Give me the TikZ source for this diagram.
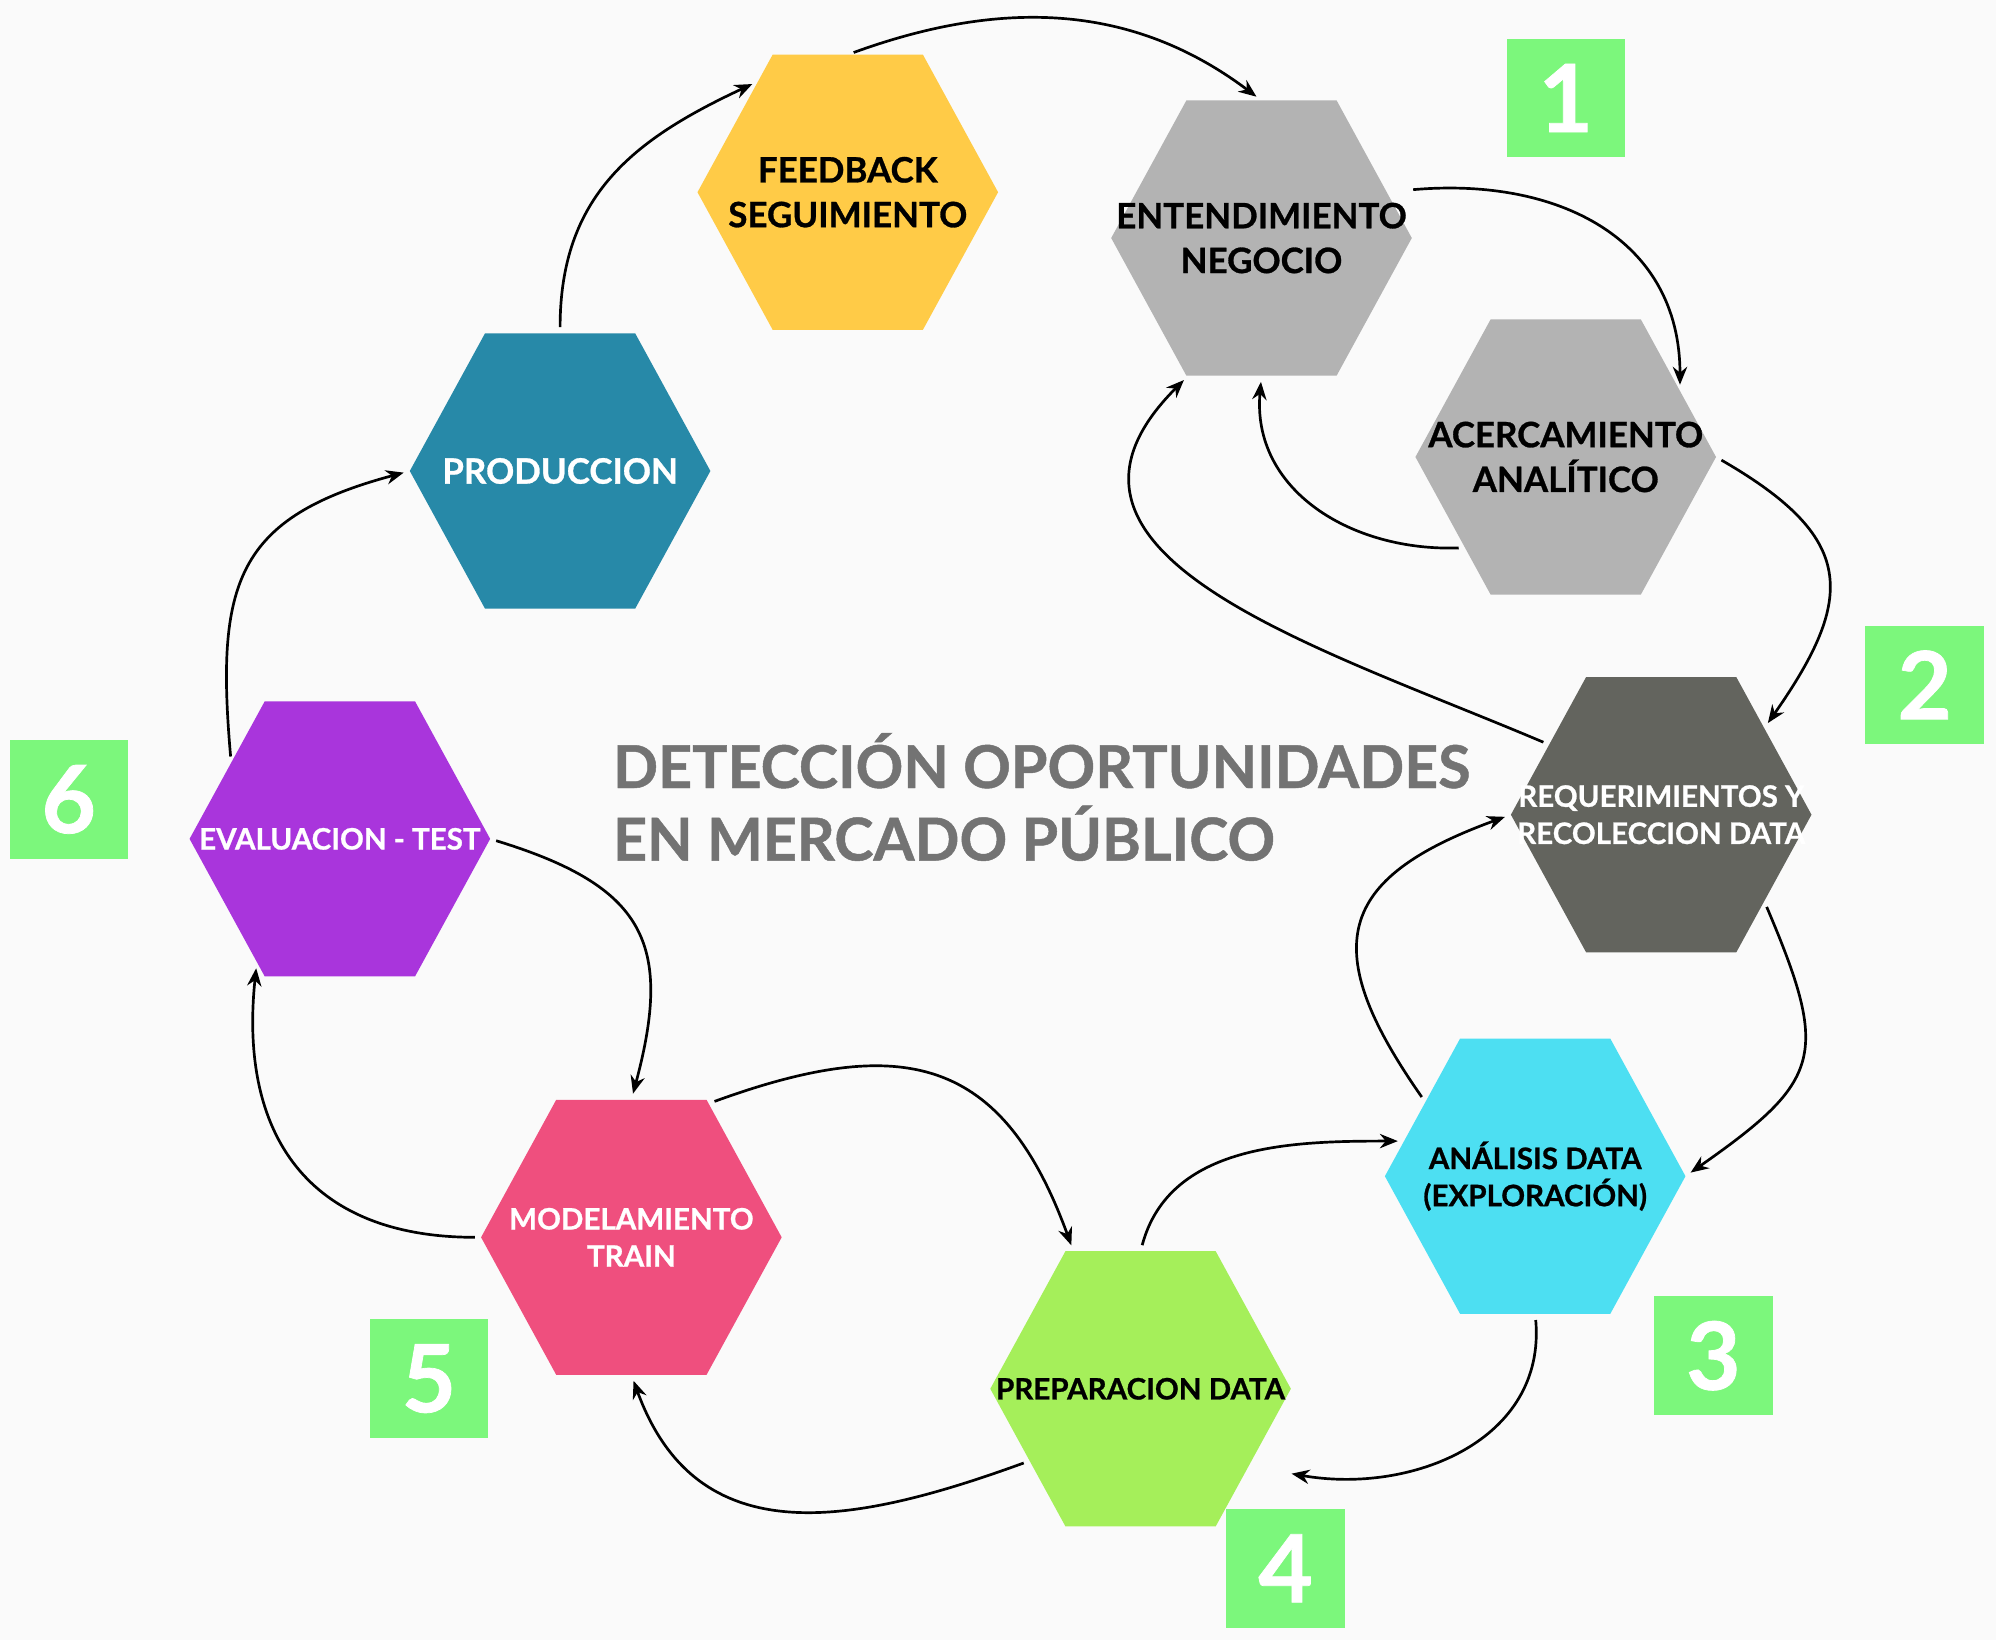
\documentclass[tikz,border=0pt]{standalone}
\usepackage{fontspec}
\setmainfont{Lato}[BoldFeatures={FakeBold=0.8}]
\usepackage{xcolor}
\usetikzlibrary{shapes.symbols}
\usetikzlibrary{positioning, arrows.meta}

\definecolor{bgcol}{HTML}{FAFAFA}
\definecolor{feedcol}{HTML}{FFCB47}
\definecolor{entcol}{HTML}{B3B3B3}
\definecolor{reqcol}{HTML}{63645E}
\definecolor{analcol}{HTML}{4DDFF2}
\definecolor{prepcol}{HTML}{A5EF5A}
\definecolor{modelcol}{HTML}{EF4F7E}
\definecolor{evalcol}{HTML}{A935DC}
\definecolor{prodcol}{HTML}{2789A8}
\definecolor{numgreen}{HTML}{7CF77C}
\definecolor{titlecol}{HTML}{737373}

\begin{document}
\begin{tikzpicture}[x=0.01cm, y=0.01cm,
    hexa/.style = {signal, signal to=east and west, signal pointer angle=122.7, minimum width=2.36cm, minimum height=2.16cm, inner sep=0pt, outer sep=0pt, fill=#1},
    bigtxt/.style = {font=\fontsize{7.8}{10}\selectfont\bfseries, align=center},
    smalltxt/.style = {font=\fontsize{6.6}{8.3}\selectfont\bfseries, align=center},
    num/.style = {fill=numgreen, minimum size=0.93cm, inner sep=0pt, text=white, font=\fontsize{21}{21}\selectfont\bfseries},
    titletxt/.style = {text=titlecol, inner sep=0pt, align=left, font=\fontsize{13.2}{16.2}\selectfont\bfseries},
    link/.style = {-{Stealth[length=4pt, width=3.2pt]}, line width=0.6pt, shorten <=1.4pt, shorten >=1.4pt}]
    \path[use as bounding box, fill=bgcol] (0,0) rectangle (1568,-1288);

    % Nodes
    \node[hexa=feedcol, label={[bigtxt]center:FEEDBACK\\SEGUIMIENTO}] (feed) at (666,-151) {};
    \node[hexa=entcol, label={[bigtxt]center:ENTENDIMIENTO\\NEGOCIO}] (ent) at (991,-187) {};
    \node[hexa=entcol, label={[bigtxt]center:ACERCAMIENTO\\ANALÍTICO}] (acer) at (1230,-359) {};
    \node[hexa=reqcol, label={[smalltxt, text=white]center:REQUERIMIENTOS Y\\RECOLECCION DATA}] (req) at (1305,-640) {};
    \node[hexa=analcol, label={[smalltxt]center:ANÁLISIS DATA\\(EXPLORACIÓN)}] (anal) at (1206,-924) {};
    \node[hexa=prepcol, label={[smalltxt]center:PREPARACION DATA}] (prep) at (896,-1091) {};
    \node[hexa=modelcol, label={[smalltxt, text=white]center:MODELAMIENTO\\TRAIN}] (model) at (496,-972) {};
    \node[hexa=evalcol, label={[smalltxt, text=white]center:EVALUACION - TEST}] (eval) at (267,-659) {};
    \node[hexa=prodcol, label={[bigtxt, text=white]center:PRODUCCION}] (prod) at (440,-370) {};

    % Step numbers
    \node[num] (num1) at (1230,-77) {1};
    \node[num] (num2) at (1512,-538) {2};
    \node[num] (num3) at (1346,-1065) {3};
    \node[num] (num4) at (1010,-1232) {4};
    \node[num] (num5) at (337,-1083) {5};
    \node[num] (num6) at (54,-628) {6};

    % Title
    \node[titletxt, anchor=base west] (title) at (481,-676) {DETECCIÓN OPORTUNIDADES\\EN MERCADO PÚBLICO};

    % Lines
    \draw[link] (feed.north) to[out=20, in=143] (ent.north);
    \draw[link] ([shift={(14,5)}]ent.18) to[out=5, in=90, looseness=1.15] (acer.30);
    \draw[link] (acer.222) to[out=182, in=265, looseness=1.1] (ent.south);
    \draw[link] (acer.east) to[out=-30, in=55, looseness=1.5] (req.40);
    \draw[link] (req.148) to[out=157, in=225, looseness=1.25] (ent.242);
    \draw[link] (req.-40) to[out=-67, in=35, looseness=1.5] (anal.east);
    \draw[link] (anal.146) to[out=125, in=200, looseness=1.6] (req.west);
    \draw[link] (anal.south) to[out=-85, in=-10, looseness=1.1] ([shift={(24,-14)}]prep.-30);
    \draw[link] (prep.north) to[out=75, in=180] (anal.165);
    \draw[link] (prep.213) to[out=200, in=-70, looseness=1.2] (model.south);
    \draw[link] (model.60) to[out=20, in=110, looseness=1.35] (prep.116);
    \draw[link] (model.west) to[out=180, in=264, looseness=1.25] (eval.236);
    \draw[link] (eval.east) to[out=-17, in=75, looseness=1.4] (model.north);
    \draw[link] (eval.145) to[out=95, in=195, looseness=1.35] (prod.west);
    \draw[link] (prod.north) to[out=90, in=205, looseness=1.1] (feed.129);
\end{tikzpicture}
\end{document}
